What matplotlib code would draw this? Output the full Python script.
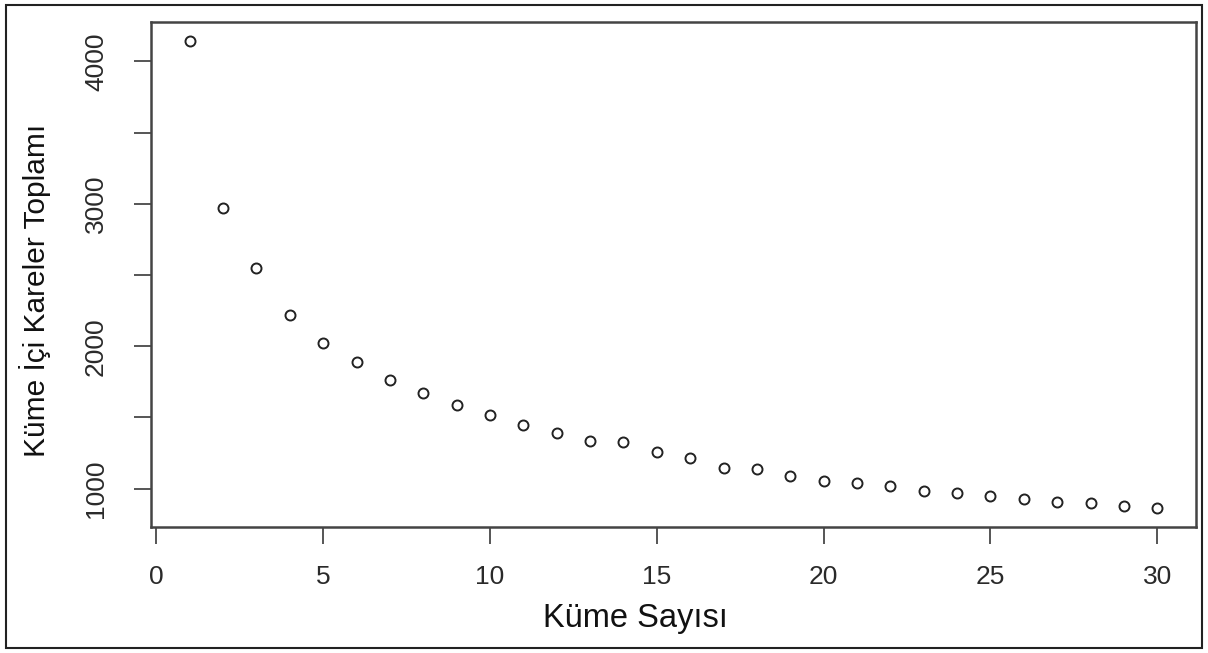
import matplotlib
matplotlib.use("Agg")
import matplotlib.pyplot as plt
from matplotlib.patches import Rectangle

plt.rcParams['font.family'] = ['Liberation Sans', 'DejaVu Sans']

# Küme sayısı ve küme içi kareler toplamı
kume_sayisi = list(range(1, 31))
kareler_toplami = [4146, 2973, 2552, 2222, 2025, 1892, 1765, 1672, 1590, 1515,
                   1449, 1391, 1332, 1328, 1258, 1218, 1147, 1136, 1087, 1056,
                   1040, 1016, 981, 972, 946, 928, 909, 902, 876, 862]

x_ticks = [0, 5, 10, 15, 20, 25, 30]
y_ticks = [1000, 1500, 2000, 2500, 3000, 3500, 4000]
y_labels = ["1000", "", "2000", "", "3000", "", "4000"]

W, H = 1208, 653
fig = plt.figure(figsize=(W / 100, H / 100), dpi=100)
ax = fig.add_axes([151 / W, 1 - 527 / H, (1196 - 151) / W, (527 - 22) / H])

ax.plot(kume_sayisi, kareler_toplami, linestyle="none", marker="o",
        markersize=7.2, markerfacecolor="none", markeredgecolor="#222222",
        markeredgewidth=1.4)

# R tarzı eksen aralığı (%4 pay)
xr = max(kume_sayisi) - min(kume_sayisi)
yr = max(kareler_toplami) - min(kareler_toplami)
ax.set_xlim(min(kume_sayisi) - 0.04 * xr, max(kume_sayisi) + 0.04 * xr)
ax.set_ylim(min(kareler_toplami) - 0.04 * yr, max(kareler_toplami) + 0.04 * yr)

ax.set_xticks(x_ticks)
ax.set_yticks(y_ticks)
ax.set_yticklabels(y_labels, rotation=90, va="center")
ax.tick_params(axis="both", direction="out", length=12, width=1.4,
               color="#555555", labelsize=19, labelcolor="#2a2a2a")
ax.tick_params(axis="x", pad=15)
ax.tick_params(axis="y", pad=19)
for s in ax.spines.values():
    s.set_color("#444444")
    s.set_linewidth(1.8)

fig.text(635 / W, 1 - 627 / H, "Küme Sayısı", fontsize=23.5,
         ha="center", va="baseline", color="#111111")
fig.text(45 / W, 1 - 290 / H, "Küme İçi Kareler Toplamı", fontsize=21.5,
         rotation=90, rotation_mode="anchor", ha="center", va="baseline",
         color="#111111")

# dış çerçeve
fig.patches.append(Rectangle((6 / W, 5 / H), (1202 - 6) / W, (648 - 5) / H,
                             transform=fig.transFigure, fill=False,
                             edgecolor="#222222", linewidth=1.5))

fig.savefig("out.png", dpi=100)
